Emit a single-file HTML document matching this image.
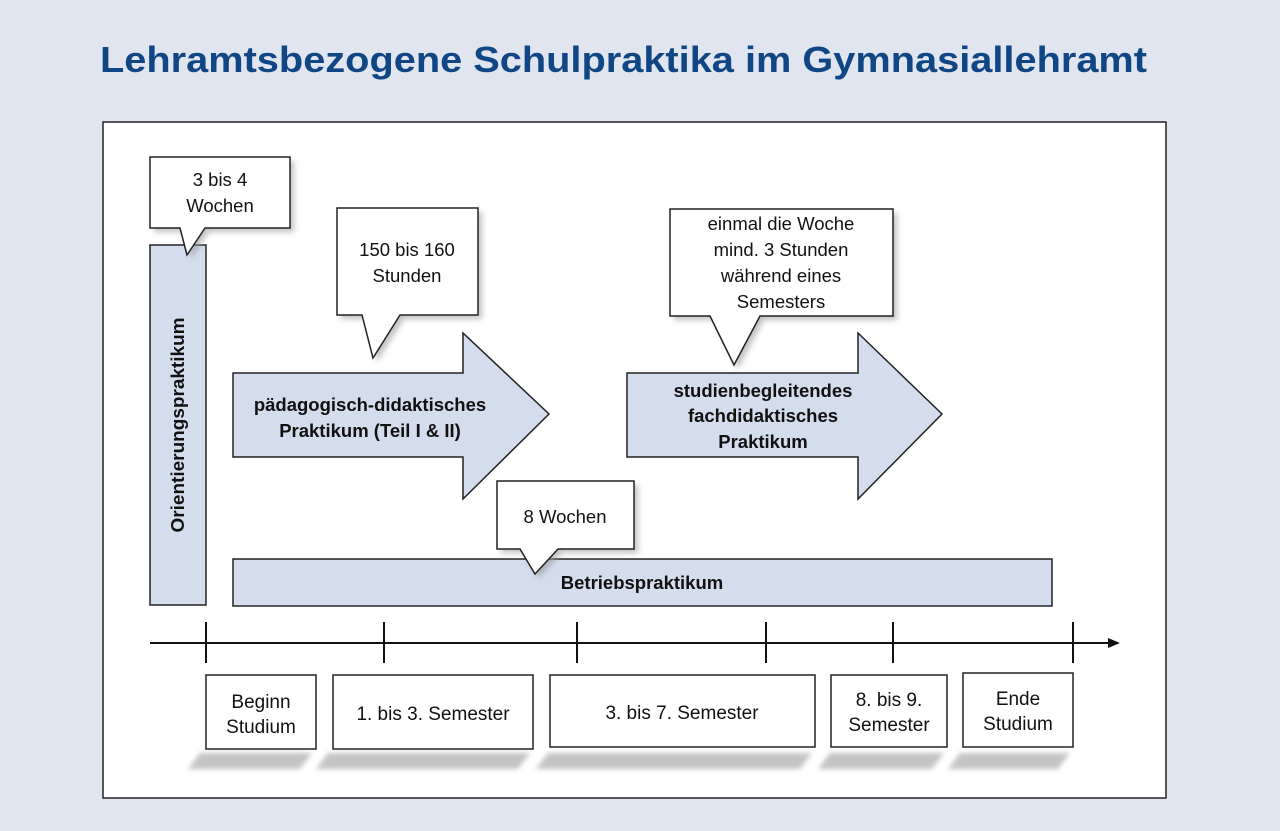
<!DOCTYPE html>
<html><head><meta charset="utf-8"><style>
html,body{margin:0;padding:0;background:#e1e5f0;}
svg{display:block;}
text{font-family:"Liberation Sans",sans-serif;}
</style></head><body>
<svg width="1280" height="831" viewBox="0 0 1280 831" xmlns="http://www.w3.org/2000/svg">
<defs>
<filter id="sh" x="-20%" y="-20%" width="140%" height="140%"><feGaussianBlur stdDeviation="3"/></filter>
<filter id="bl" x="-20%" y="-100%" width="140%" height="300%"><feGaussianBlur stdDeviation="2.5"/></filter>
</defs>
<rect width="1280" height="831" fill="#e1e5f0"/>
<text x="100" y="72" font-size="36" font-weight="bold" fill="#0f4683" textLength="1047" lengthAdjust="spacingAndGlyphs">Lehramtsbezogene Schulpraktika im Gymnasiallehramt</text>
<rect x="103" y="122" width="1063" height="676" fill="#fff" stroke="#222" stroke-width="1.5"/>

<g fill="#d3ddee" stroke="#222" stroke-width="1.5">
<rect x="150" y="245" width="56" height="360"/>
<rect x="233" y="559" width="819" height="47"/>
<polygon points="233,373 463,373 463,333 549,414 463,499 463,457 233,457"/>
<polygon points="627,373 858,373 858,333 942,414 858,499 858,457 627,457"/>
</g>
<g font-weight="bold" fill="#111" font-size="18.5" text-anchor="middle">
<text transform="translate(184,425) rotate(-90)" textLength="215" lengthAdjust="spacingAndGlyphs">Orientierungspraktikum</text>
<text x="642" y="589">Betriebspraktikum</text>
<text x="370" y="411">pädagogisch-didaktisches</text>
<text x="370" y="437">Praktikum (Teil I &amp; II)</text>
<text x="763" y="397">studienbegleitendes</text>
<text x="763" y="422">fachdidaktisches</text>
<text x="763" y="448">Praktikum</text>
</g>

<g fill="#999" opacity="0.6" filter="url(#sh)">
<polygon points="154,161 294,161 294,232 209,232 191,259 184,232 154,232"/>
<polygon points="341,212 482,212 482,319 404,319 377,362 366,319 341,319"/>
<polygon points="674,213 897,213 897,320 764,320 738,369 714,320 674,320"/>
<polygon points="501,485 638,485 638,553 562,553 539,578 524,553 501,553"/>
</g>
<g fill="#fff" stroke="#222" stroke-width="1.5">
<polygon points="150,157 290,157 290,228 205,228 187,255 180,228 150,228"/>
<polygon points="337,208 478,208 478,315 400,315 373,358 362,315 337,315"/>
<polygon points="670,209 893,209 893,316 760,316 734,365 710,316 670,316"/>
<polygon points="497,481 634,481 634,549 558,549 535,574 520,549 497,549"/>
</g>
<g font-size="18.5" fill="#111" text-anchor="middle">
<text x="220" y="186">3 bis 4</text><text x="220" y="212">Wochen</text>
<text x="407" y="256">150 bis 160</text><text x="407" y="282">Stunden</text>
<text x="781" y="230">einmal die Woche</text><text x="781" y="256">mind. 3 Stunden</text>
<text x="781" y="282">während eines</text><text x="781" y="308">Semesters</text>
<text x="565" y="523">8  Wochen</text>
</g>

<line x1="150" y1="643" x2="1112" y2="643" stroke="#111" stroke-width="2"/>
<polygon points="1120,643 1108,638 1108,648" fill="#111"/>
<g stroke="#111" stroke-width="2">
<line x1="206" y1="622" x2="206" y2="663"/><line x1="384" y1="622" x2="384" y2="663"/>
<line x1="577" y1="622" x2="577" y2="663"/><line x1="766" y1="622" x2="766" y2="663"/>
<line x1="893" y1="622" x2="893" y2="663"/><line x1="1073" y1="622" x2="1073" y2="663"/>
</g>
<g fill="#c4c4c4" filter="url(#bl)">
<polygon points="200,753 312,753 300,769 188,769"/>
<polygon points="328,753 530,753 518,769 316,769"/>
<polygon points="548,753 812,753 800,769 536,769"/>
<polygon points="830,753 944,753 932,769 818,769"/>
<polygon points="960,753 1070,753 1058,769 948,769"/>
</g>
<g fill="#fff" stroke="#222" stroke-width="1.5">
<rect x="206" y="675" width="110" height="74"/>
<rect x="333" y="675" width="200" height="74"/>
<rect x="550" y="675" width="265" height="72"/>
<rect x="831" y="675" width="116" height="72"/>
<rect x="963" y="673" width="110" height="74"/>
</g>
<g font-size="19" fill="#111" text-anchor="middle">
<text x="261" y="708">Beginn</text><text x="261" y="733">Studium</text>
<text x="433" y="720">1. bis 3. Semester</text>
<text x="682" y="719">3. bis 7. Semester</text>
<text x="889" y="706">8. bis 9.</text><text x="889" y="731">Semester</text>
<text x="1018" y="705">Ende</text><text x="1018" y="730">Studium</text>
</g>
</svg>
</body></html>
